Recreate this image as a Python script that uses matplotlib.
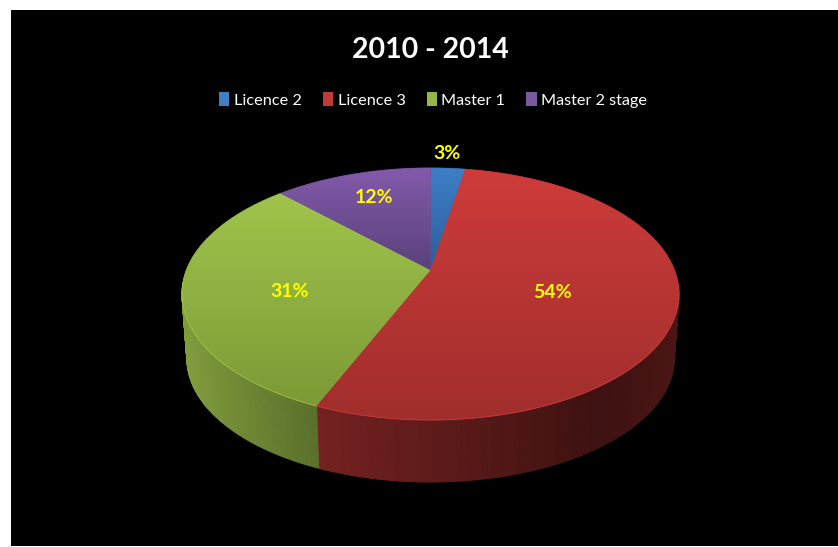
import numpy as np
import matplotlib
matplotlib.use("Agg")
import matplotlib.pyplot as plt
from matplotlib.patches import Patch, Polygon

plt.rcParams['font.family'] = ['Lato', 'DejaVu Sans']

title = "2010 - 2014"
categories = ["Licence 2", "Licence 3", "Master 1", "Master 2 stage"]
values = [2.7, 53.6, 31.4, 12.3]

top_colors = [(62, 126, 200), (206, 60, 58), (160, 196, 76), (131, 90, 170)]
low_colors = [(44, 94, 152), (160, 46, 45), (124, 154, 54), (90, 65, 124)]
legend_colors = ["#3f7fc4", "#c23a38", "#94b648", "#7a5a9e"]
label_xy = [(447, 153.5), (553, 292.5), (290, 291.5), (374, 197.5)]

W, H = 838, 547
L, T, B = 11, 10, 545.5
fig = plt.figure(figsize=(W / 100, H / 100), dpi=100, facecolor="white")
ax = fig.add_axes([L / W, 1 - B / H, (W - L) / W, (B - T) / H], facecolor="black")
ax.set_axis_off()
ax.add_patch(plt.Rectangle((L, T), W - L, B - T, color="black", zorder=0))

# perspective disc: a circle seen obliquely
CX, CY = 430.5, 270
BOTTOM_CY, SHRINK = 335, 0.98
C, A, RX = 0.1905, 121.4, 243.9


def project(theta, cy=CY, scale=1.0):
    u, v = np.sin(theta), np.cos(theta)
    d = 1 + C * v
    return CX + scale * RX * u / d, cy - scale * A * v / d


def side_shade(x):
    t = (x - 182) / 497
    return np.interp(t, [0, 0.28, 0.84, 1], [0.80, 0.56, 0.30, 0.36])


edges = np.radians(np.cumsum([0] + values) / sum(values) * 360)

# side walls
for i in range(len(values)):
    th = np.linspace(edges[i], edges[i + 1], max(int(np.degrees(edges[i + 1] - edges[i])) * 2, 3))
    xt, yt = project(th)
    xb, yb = project(th, BOTTOM_CY, SHRINK)
    base = np.array(top_colors[i]) / 255
    for j in range(len(th) - 1):
        f = side_shade((xt[j] + xt[j + 1]) / 2)
        col = np.clip(base * f, 0, 1)
        ax.add_patch(Polygon([(xt[j], yt[j]), (xt[j + 1], yt[j + 1]), (xb[j + 1], yb[j + 1]), (xb[j], yb[j])],
                             closed=True, facecolor=col, edgecolor=col, lw=0.8, zorder=1))

# top faces with vertical gradient
for i in range(len(values)):
    th = np.linspace(edges[i], edges[i + 1], 200)
    xs, ys = project(th)
    px = np.r_[CX, xs]
    py = np.r_[CY, ys]
    mid = (np.array(top_colors[i]) + np.array(low_colors[i])) / 2 / 255
    ax.add_patch(Polygon(np.c_[px, py], closed=True, facecolor=mid, edgecolor=mid, lw=0.5, zorder=1.9))
    g = np.linspace(0, 1, 256)[:, None, None]
    img = (np.array(top_colors[i])[None, None, :] * (1 - g) + np.array(low_colors[i])[None, None, :] * g) / 255
    im = ax.imshow(img, extent=(px.min(), px.max(), py.max(), py.min()), aspect="auto", zorder=2,
                   interpolation="bilinear")
    poly = Polygon(np.c_[px, py], closed=True, transform=ax.transData, facecolor="none", edgecolor="none")
    ax.add_patch(poly)
    im.set_clip_path(poly)
    # soft bevel along the front rim
    front = np.cos(th) < -0.1
    if front.any():
        ax.plot(xs[front], ys[front], color=np.clip(np.array(top_colors[i]) / 255 * 1.1, 0, 1), lw=0.8, alpha=0.45, zorder=3)

ax.set_xlim(L, W)
ax.set_ylim(B, T)

ax.text(430, 50, title, color="white", fontsize=20.5, fontweight="bold", ha="center", va="center", zorder=5)

for v, (x, y) in zip(values, label_xy):
    ax.text(x, y, f"{v:.0f}%", color="#ffff00", fontsize=14, fontweight="bold", ha="center", va="center", zorder=5)

handles = [Patch(facecolor=c, edgecolor="none", label=n) for c, n in zip(legend_colors, categories)]
leg = ax.legend(handles=handles, ncol=4, loc="center", bbox_to_anchor=(433, 100), bbox_transform=ax.transData,
                frameon=False, labelcolor="white", fontsize=11.7, handlelength=0.62, handleheight=0.9,
                handletextpad=0.3, columnspacing=1.3, borderpad=0)

fig.savefig("out.png", dpi=100, facecolor="white")
